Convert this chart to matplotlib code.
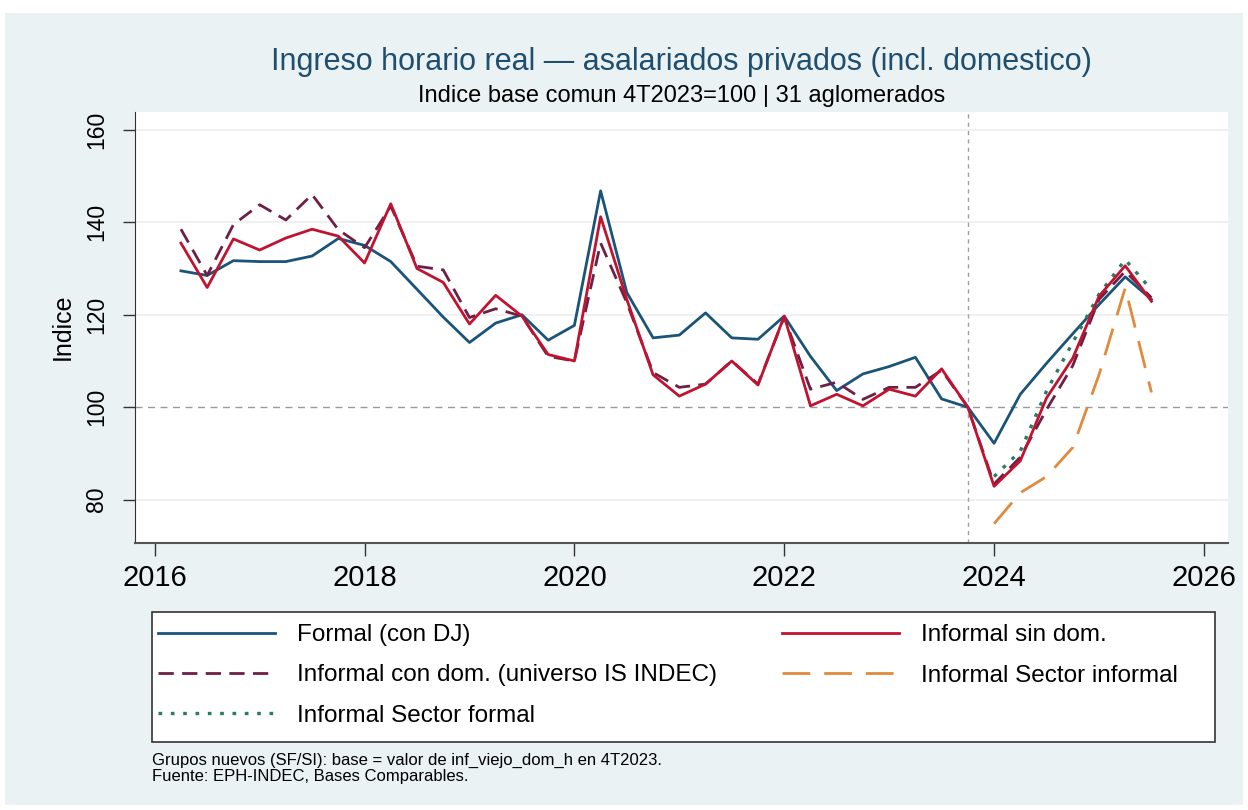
import numpy as np
import matplotlib
matplotlib.use("Agg")
import matplotlib.pyplot as plt
from matplotlib.patches import Rectangle

plt.rcParams['font.family'] = ['Liberation Sans', 'DejaVu Sans']

# periodos trimestrales (EPH)
periods = ["2T2016", "3T2016", "4T2016",
           "1T2017", "2T2017", "3T2017", "4T2017",
           "1T2018", "2T2018", "3T2018", "4T2018",
           "1T2019", "2T2019", "3T2019", "4T2019",
           "1T2020", "2T2020", "3T2020", "4T2020",
           "1T2021", "2T2021", "3T2021", "4T2021",
           "1T2022", "2T2022", "3T2022", "4T2022",
           "1T2023", "2T2023", "3T2023", "4T2023",
           "1T2024", "2T2024", "3T2024", "4T2024",
           "1T2025", "2T2025", "3T2025"]

formal = [129.5, 128.5, 131.7, 131.5, 131.5, 132.7, 136.5, 135.0, 131.5, 125.5,
          119.5, 114.0, 118.2, 120.0, 114.5, 117.7, 146.8, 124.8, 115.0, 115.6,
          120.4, 115.0, 114.7, 119.7, 111.0, 103.6, 107.2, 108.8, 110.8, 101.8,
          100.0, 92.2, 102.8, 109.5, 115.9, 122.2, 128.2, 123.3]

inf_sin_dom = [135.5, 125.9, 136.4, 134.0, 136.6, 138.5, 137.0, 131.2, 144.0, 130.0,
               127.0, 118.0, 124.2, 119.7, 111.4, 110.0, 141.2, 123.3, 107.0, 102.4,
               105.0, 110.0, 104.8, 119.7, 100.3, 102.8, 100.3, 103.9, 102.4, 108.3,
               100.0, 82.9, 88.4, 102.0, 110.6, 124.0, 130.6, 122.9]

inf_con_dom = [138.5, 128.5, 139.5, 143.8, 140.5, 146.0, 138.4, 134.5, 143.5, 130.5,
               129.7, 119.4, 121.3, 119.7, 111.0, 110.0, 135.5, 122.6, 107.5, 104.3,
               105.0, 110.0, 105.0, 119.5, 103.9, 105.4, 101.7, 104.3, 104.3, 108.0,
               100.0, 83.4, 89.2, 99.5, 109.0, 123.3, 129.4, 123.7]

# grupos nuevos, desde 1T2024
periods_new = ["1T2024", "2T2024", "3T2024", "4T2024", "1T2025", "2T2025", "3T2025"]
inf_sf = [85.0, 90.5, 103.5, 114.0, 124.4, 131.9, 125.4]
inf_si = [74.8, 81.5, 85.0, 91.3, 107.0, 125.8, 103.2]

ref_period = "4T2023"


def to_x(p):
    q = int(p[0])
    y = int(p[2:])
    return y + (q - 1) / 4


x_old = np.array([to_x(p) for p in periods])
x_new = np.array([to_x(p) for p in periods_new])

bg = "#eaf2f3"
c_formal = "#1a5478"
c_sin = "#c1122f"
c_con = "#6e1f45"
c_si = "#e08a3c"
c_sf = "#2b7d62"

fig = plt.figure(figsize=(12.48, 8.10), dpi=100)
fig.patch.set_facecolor("white")
fig.add_artist(Rectangle((0.004, 0.006), 0.992, 0.978, transform=fig.transFigure,
                         facecolor=bg, edgecolor="none", zorder=0))

ax = fig.add_axes([0.108, 0.330, 0.876, 0.532])
ax.set_facecolor("white")

for v in [80, 120, 140, 160]:
    ax.axhline(v, color="#eeeeee", lw=1.2, zorder=1)
ax.axhline(100, color="#9a9a9a", lw=1.0, ls=(0, (5, 4)), zorder=1)
ax.axvline(to_x(ref_period), color="#a0a0a0", lw=1.0, ls=(0, (3, 3)), zorder=1)

ax.plot(x_old, formal, color=c_formal, lw=2.0, label="Formal (con DJ)", zorder=3)
ax.plot(x_old, inf_con_dom, color=c_con, lw=2.0, ls=(0, (5.5, 3)),
        label="Informal con dom. (universo IS INDEC)", zorder=3)
ax.plot(x_new, inf_sf, color=c_sf, lw=2.4, ls=(0, (1.1, 2.6)),
        label="Informal Sector formal", zorder=3)
ax.plot(x_old, inf_sin_dom, color=c_sin, lw=2.0, label="Informal sin dom.", zorder=4)
ax.plot(x_new, inf_si, color=c_si, lw=2.0, ls=(0, (10, 5)),
        label="Informal Sector informal", zorder=3)

ax.set_xlim(2015.81, 2026.23)
ax.set_ylim(70.7, 163.9)
ax.set_xticks([2016, 2018, 2020, 2022, 2024, 2026])
ax.set_yticks([80, 100, 120, 140, 160])
ax.tick_params(axis="both", length=9, width=1, color="#333333")
ax.tick_params(axis="x", labelsize=21, pad=6)
ax.tick_params(axis="y", labelsize=16.5, pad=10)
for lab in ax.get_yticklabels():
    lab.set_rotation(90)
    lab.set_va("center")
ax.set_ylabel("Indice", fontsize=18, labelpad=8)
for side in ["top", "right"]:
    ax.spines[side].set_visible(False)
ax.spines["left"].set_color("#333333")
ax.spines["bottom"].set_color("#555555")
ax.spines["bottom"].set_linewidth(1.5)

fig.text(0.546, 0.923, "Ingreso horario real \u2014 asalariados privados (incl. domestico)",
         ha="center", va="center", fontsize=22, color="#1f4e6e")
fig.text(0.546, 0.882, "Indice base comun 4T2023=100 | 31 aglomerados",
         ha="center", va="center", fontsize=17, color="black")

# caja de la leyenda
fig.add_artist(Rectangle((152 / 1248, 1 - 742 / 810), (1215 - 152) / 1248, 130 / 810,
                         transform=fig.transFigure, facecolor="white",
                         edgecolor="#333333", lw=1.2, zorder=1))
leg = fig.legend(loc="upper left", bbox_to_anchor=(158 / 1248, 1 - 624 / 810),
                 ncol=2, fontsize=17.5, frameon=False,
                 handlelength=4.8, handletextpad=0.9, borderpad=0.0,
                 labelspacing=0.76, columnspacing=2.7, borderaxespad=0)
leg.set_zorder(2)

fig.text(0.122, 1 - 760 / 810, "Grupos nuevos (SF/SI): base = valor de inf_viejo_dom_h en 4T2023.",
         fontsize=12, ha="left", va="center")
fig.text(0.122, 1 - 776 / 810, "Fuente: EPH-INDEC, Bases Comparables.",
         fontsize=12, ha="left", va="center")

fig.savefig("out.png", dpi=100, facecolor=fig.get_facecolor())
